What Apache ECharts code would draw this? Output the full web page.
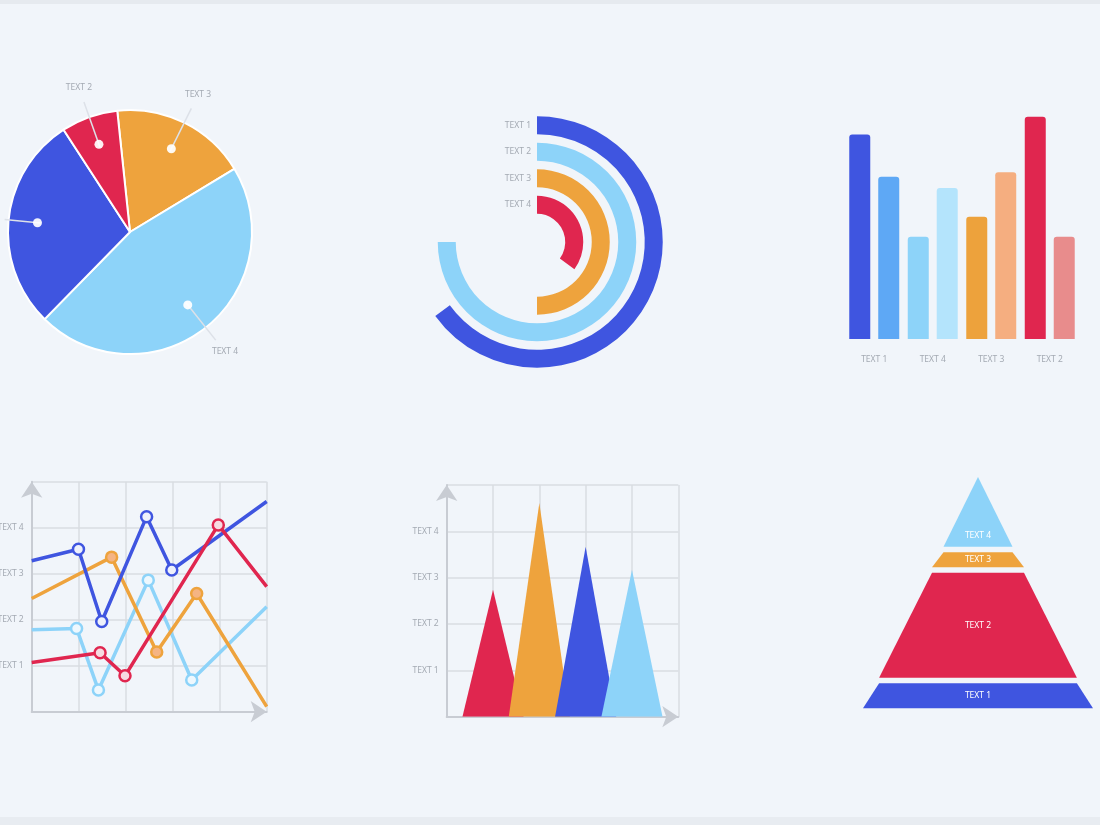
<!DOCTYPE html>
<html>
<head>
<meta charset="UTF-8">
<title>charts</title>
<script src="https://cdn.jsdelivr.net/npm/echarts@6/dist/echarts.min.js"></script>
<style>
  html, body { margin: 0; padding: 0; background: #f1f5fa; }
  #main { width: 1100px; height: 825px; }
  .band-top { position: absolute; left: 0; top: 0; width: 1100px; height: 4px; background: #e6eaef; }
  .band-bottom { position: absolute; left: 0; top: 817px; width: 1100px; height: 8px; background: #e8ecf1; }
</style>
</head>
<body>
<div id="main"></div>
<div class="band-top"></div>
<div class="band-bottom"></div>
<script>
// pie, top left (clockwise from the top)
var pieNames = ['TEXT 3', 'TEXT 4', 'TEXT 1', 'TEXT 2'];
var pieValues = [18, 46, 28.5, 7.5];
var pieColors = ['#eea33d', '#8dd3f9', '#3f55e0', '#e0264f'];

// radial bars, top middle (inner ring first), out of 100
var ringNames = ['TEXT 4', 'TEXT 3', 'TEXT 2', 'TEXT 1'];
var ringValues = [35, 50, 75, 65];
var ringColors = ['#e0264f', '#eea33d', '#8dd3f9', '#3f55e0'];

// bars, top right
var barCats = ['TEXT 1', 'TEXT 4', 'TEXT 3', 'TEXT 2'];
var barFirst = [92, 46, 55, 100];
var barSecond = [73, 68, 75, 46];
var barFirstColors = ['#3f55e0', '#8dd3f9', '#eda23c', '#e0264f'];
var barSecondColors = ['#5ea8f5', '#b4e4fc', '#f5ae80', '#e88c8c'];

// lines, bottom left  [x, y]
var yTickNames = ['', 'TEXT 1', 'TEXT 2', 'TEXT 3', 'TEXT 4', ''];
var lineLightBlue = [[0, 1.78], [1.91, 1.81], [2.84, 0.47], [4.96, 2.86], [6.81, 0.69], [10, 2.28]];
var lineOrange = [[0, 2.46], [3.4, 3.36], [5.32, 1.3], [7.02, 2.57], [10, 0.11]];
var lineBlue = [[0, 3.28], [1.99, 3.53], [2.98, 1.96], [4.89, 4.24], [5.96, 3.08], [10, 4.57]];
var lineRed = [[0, 1.07], [2.91, 1.28], [3.97, 0.78], [7.94, 4.06], [10, 2.72]];

// peaks, bottom middle
var peakPos = [1, 2, 3, 4];
var peakHeights = [2.74, 4.61, 3.67, 3.17];
var peakHalfBase = 0.66;
var peakColors = ['#e0264f', '#eea33d', '#3f55e0', '#8dd3f9'];

// pyramid, bottom right (bottom layer first)
var pyrNames = ['TEXT 1', 'TEXT 2', 'TEXT 3', 'TEXT 4'];
var pyrValues = [100, 86, 40, 30];
var pyrShares = [10.8, 45.3, 6.5, 30.2];
var pyrColors = ['#3f55e0', '#e0264f', '#eea33d', '#8dd3f9'];

var grey = '#a4aab3';
var gridLine = '#d8dce2';
var axisGrey = '#c8ccd3';
var clear = 'rgba(0,0,0,0)';

function pieData(fill) {
    return pieNames.map(function (n, i) {
        return { name: n, value: pieValues[i], itemStyle: { color: fill ? pieColors[i] : clear } };
    });
}

function lineSeries(points, color, fill) {
    return {
        type: 'line', xAxisIndex: 1, yAxisIndex: 1, z: 3,
        data: points.map(function (p, i) {
            var item = { value: p };
            if (i === 0 || i === points.length - 1) item.symbol = 'none';
            return item;
        }),
        symbol: 'circle', symbolSize: 11,
        lineStyle: { color: color, width: 3.5 },
        itemStyle: { color: fill, borderColor: color, borderWidth: 2.5 }
    };
}

function peakSeries(i) {
    return {
        type: 'line', xAxisIndex: 2, yAxisIndex: 2, z: 3 + i,
        symbol: 'none',
        data: [[peakPos[i] - peakHalfBase, 0], [peakPos[i], peakHeights[i]], [peakPos[i] + peakHalfBase, 0]],
        lineStyle: { width: 0 },
        areaStyle: { color: peakColors[i], opacity: 1 }
    };
}

function gridAxis(max, interval, withLabels) {
    return {
        type: 'value', min: 0, max: max, interval: interval,
        axisLine: { show: true, symbol: ['none', 'arrow'], symbolSize: [16, 16],
            lineStyle: { color: axisGrey, width: 2 } },
        axisTick: { show: false },
        axisLabel: withLabels ? {
            color: grey, fontSize: 8.5, margin: 8,
            formatter: function (v) { return yTickNames[v] || ''; }
        } : { show: false },
        splitLine: { lineStyle: { color: gridLine, width: 1.5 } }
    };
}

var lineData = pieData(false);
// the left slice's line only runs to the page edge
lineData[2].labelLine = { length: 36 };

var chart = echarts.init(document.getElementById('main'));

var option = {
    animation: false,
    backgroundColor: '#f1f5fa',
    textStyle: { fontFamily: 'Noto Sans' },
    grid: [
        { left: 845, top: 99, width: 234, height: 240, outerBoundsMode: 'none', containLabel: false },
        { left: 31.7, top: 481.7, width: 235, height: 230, outerBoundsMode: 'none', containLabel: false },
        { left: 446.7, top: 485, width: 231.6, height: 231.7, outerBoundsMode: 'none', containLabel: false }
    ],
    xAxis: [
        { type: 'category', gridIndex: 0, data: barCats,
          axisLine: { show: false }, axisTick: { show: false },
          axisLabel: { color: grey, fontSize: 8.5, margin: 16 } },
        Object.assign({ gridIndex: 1 }, gridAxis(10, 2, false)),
        Object.assign({ gridIndex: 2 }, gridAxis(5, 1, false))
    ],
    yAxis: [
        { type: 'value', gridIndex: 0, min: 0, max: 108, show: false },
        Object.assign({ gridIndex: 1 }, gridAxis(5, 1, true)),
        Object.assign({ gridIndex: 2 }, gridAxis(5, 1, true))
    ],
    polar: { center: [537, 242], radius: [24, 130] },
    angleAxis: {
        max: 100, startAngle: 90, clockwise: true,
        axisLine: { show: false }, axisTick: { show: false },
        axisLabel: { show: false }, splitLine: { show: false }
    },
    radiusAxis: {
        type: 'category', data: ringNames,
        axisLine: { show: false }, axisTick: { show: false },
        splitLine: { show: false },
        axisLabel: { color: grey, fontSize: 8.5, margin: 6, interval: 0 }
    },
    series: [
        // pie body
        { type: 'pie', center: [130, 232], radius: 122, startAngle: 96, z: 2, silent: true,
          data: pieData(true),
          itemStyle: { borderColor: '#ffffff', borderWidth: 2 },
          label: { show: false }, labelLine: { show: false } },
        // pie label lines (wider box so the left one is not dropped)
        { type: 'pie', left: -100, top: 0, width: 1200, height: 825,
          center: [230, 232], radius: 90, startAngle: 96, z: 3, silent: true,
          avoidLabelOverlap: false, data: lineData,
          label: { show: true, position: 'outside', formatter: ' ', fontSize: 2, distanceToLabelLine: 0 },
          labelLine: { show: true, length: 48, length2: 0, smooth: false,
                       lineStyle: { color: '#dde1e8', width: 1.5 } } },
        // pie dots
        { type: 'pie', center: [130, 232], radius: [0, 180], startAngle: 96, z: 4, silent: true,
          avoidLabelOverlap: false, data: pieData(false),
          label: { show: true, position: 'inside', formatter: '{dot| }',
                   rich: { dot: { width: 9, height: 9, borderRadius: 5, backgroundColor: 'rgba(255,255,255,0.93)' } } },
          labelLine: { show: false } },
        // pie texts
        { type: 'pie', center: [130, 232], radius: [0, 300], startAngle: 96, z: 4, silent: true,
          avoidLabelOverlap: false, data: pieData(false),
          label: { show: true, position: 'inside', formatter: '{b}', color: grey, fontSize: 8.5 },
          labelLine: { show: false } },

        // radial bars
        { type: 'bar', coordinateSystem: 'polar', barWidth: 18,
          data: ringValues.map(function (v, i) { return { value: v, itemStyle: { color: ringColors[i] } }; }) },

        // bars
        { type: 'bar', xAxisIndex: 0, yAxisIndex: 0, barWidth: 21, barGap: '38%',
          itemStyle: { borderRadius: [3, 3, 0, 0] },
          data: barFirst.map(function (v, i) { return { value: v, itemStyle: { color: barFirstColors[i] } }; }) },
        { type: 'bar', xAxisIndex: 0, yAxisIndex: 0, barWidth: 21, barGap: '38%',
          itemStyle: { borderRadius: [3, 3, 0, 0] },
          data: barSecond.map(function (v, i) { return { value: v, itemStyle: { color: barSecondColors[i] } }; }) },

        // lines
        lineSeries(lineLightBlue, '#8dd3f9', '#eef8fe'),
        lineSeries(lineOrange, '#eea33d', '#f5b483'),
        lineSeries(lineBlue, '#3f55e0', '#eef1fb'),
        lineSeries(lineRed, '#e0264f', '#f6dbe1'),

        // peaks
        peakSeries(0), peakSeries(1), peakSeries(2), peakSeries(3),

        // pyramid
        { type: 'funnel', left: 863, top: 476.7, width: 230, height: 231.6,
          sort: 'ascending', gap: 5.5, min: 0, max: 100, minSize: '0%', maxSize: '100%',
          silent: true,
          label: { show: true, position: 'inside', color: '#ffffff', fontSize: 8.5 },
          labelLine: { show: false },
          data: pyrNames.map(function (n, i) {
              var item = { name: n, value: pyrValues[i],
                           itemStyle: { color: pyrColors[i], borderWidth: 0, height: pyrShares[i] + '%' } };
              // apex layer: push its text towards the base
              if (i === pyrNames.length - 1) item.label = { formatter: '\n\n\n\n{b}', lineHeight: 12 };
              return item;
          }) }
    ]
};

chart.setOption(option);
</script>
</body>
</html>
